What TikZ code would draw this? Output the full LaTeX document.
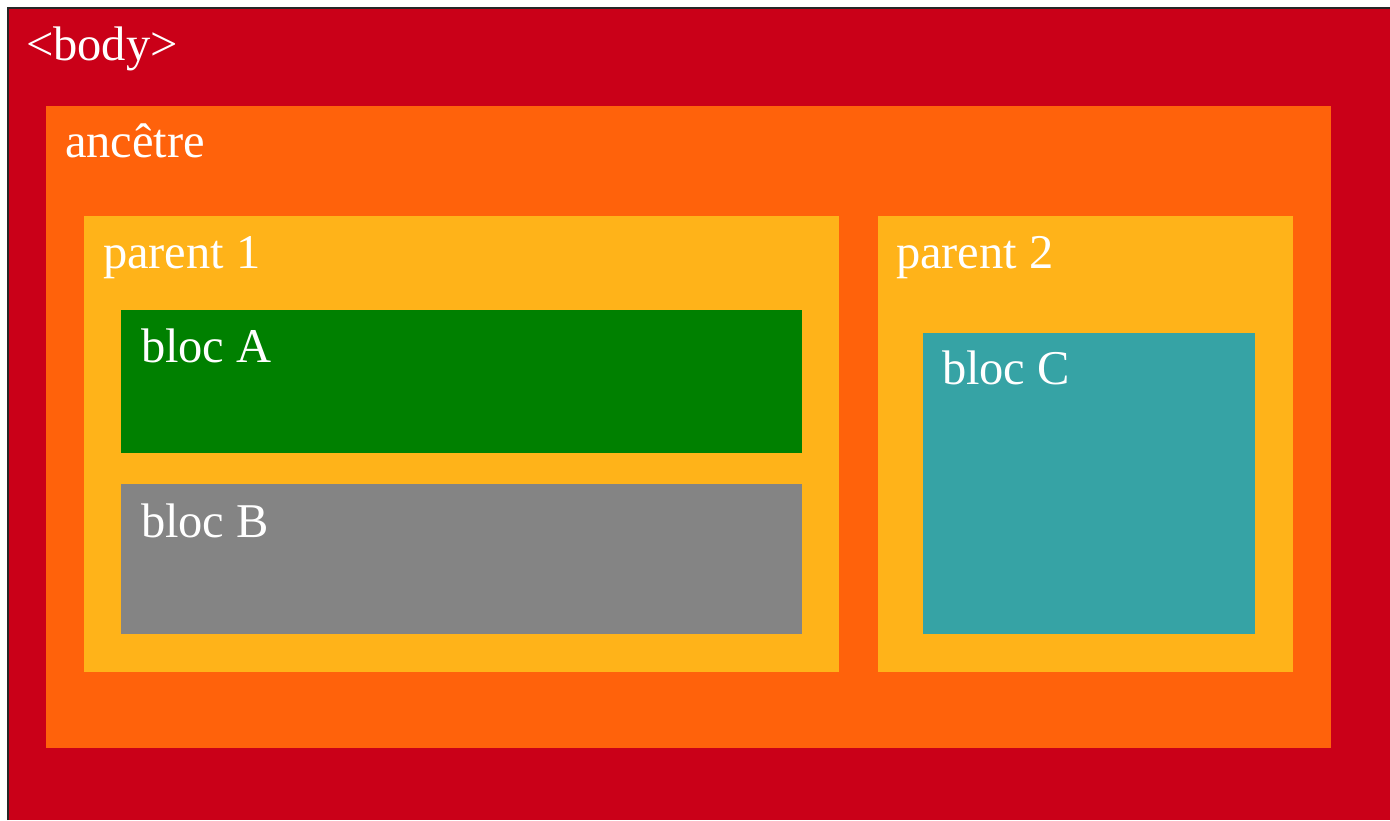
\documentclass[tikz,border=0pt]{standalone}
\usepackage{fontspec}
\setmainfont{Liberation Serif}
\definecolor{bodyred}{HTML}{CA0018}
\definecolor{ancorange}{HTML}{FF620B}
\definecolor{paryellow}{HTML}{FFB319}
\definecolor{blocgreen}{HTML}{008000}
\definecolor{blocgrey}{HTML}{848484}
\definecolor{blocteal}{HTML}{36A3A5}
\begin{document}
\begin{tikzpicture}[x=1pt,y=-1pt,
  box/.style={anchor=north west, inner sep=0pt, outer sep=0pt, draw=none},
  lbl/.style={anchor=base west, inner sep=0pt, outer sep=0pt, text=white,
    font=\fontsize{48.5}{54}\selectfont}]
\useasboundingbox (0,0) rectangle (1390,820);
\fill[white] (0,0) rectangle (1390,820);
% body
\node[box, fill=bodyred, minimum width=1382pt, minimum height=812pt] (body) at (8,8) {};
\draw[black!85, line width=1.2pt] (body.south west) -- (body.north west) -- (body.north east);
\node[lbl] (bodylbl) at (26,60) {<body>};
% ancetre
\node[box, fill=ancorange, minimum width=1285pt, minimum height=642pt] (anc) at (46,106) {};
\node[lbl] (anclbl) at (65,157) {ancêtre};
% parent 1
\node[box, fill=paryellow, minimum width=755pt, minimum height=456pt] (par1) at (84,216) {};
\node[lbl] (par1lbl) at (103,268) {parent 1};
% parent 2
\node[box, fill=paryellow, minimum width=415pt, minimum height=456pt] (par2) at (878,216) {};
\node[lbl] (par2lbl) at (896,268) {parent 2};
% bloc A
\node[box, fill=blocgreen, minimum width=681pt, minimum height=143pt] (blocA) at (121,310) {};
\node[lbl] (blocAlbl) at (141,362) {bloc A};
% bloc B
\node[box, fill=blocgrey, minimum width=681pt, minimum height=150pt] (blocB) at (121,484) {};
\node[lbl] (blocBlbl) at (141,537) {bloc B};
% bloc C
\node[box, fill=blocteal, minimum width=332pt, minimum height=301pt] (blocC) at (923,333) {};
\node[lbl] (blocClbl) at (942,384) {bloc C};
\end{tikzpicture}
\end{document}
